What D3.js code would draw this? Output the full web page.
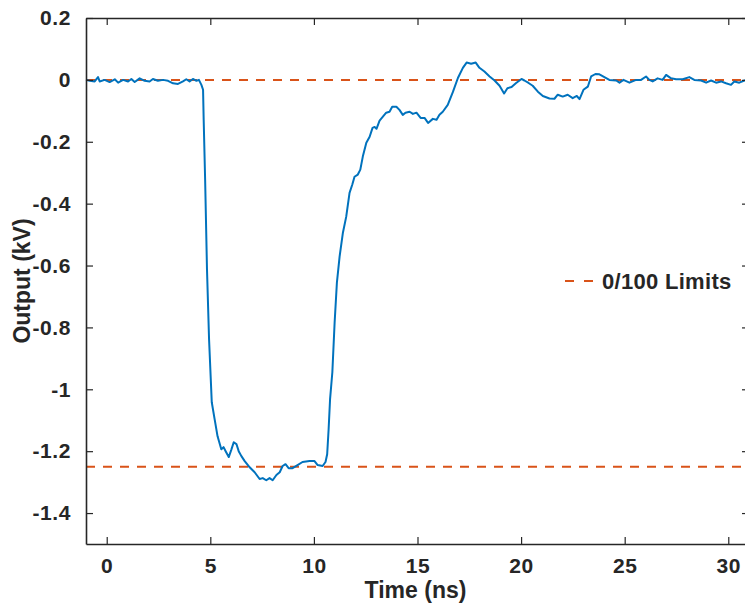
<!DOCTYPE html>
<html>
  <head>
    <meta charset="utf-8">
    <script src="https://d3js.org/d3.v7.min.js"></script>
    <style>
      body { margin: 0; background: white; }
      .tick text, .lbl, .leg {
        font-family: "Liberation Sans", Arial, sans-serif;
        font-weight: bold;
        fill: #262626;
      }
    </style>
  </head>
  <body>
    <div id="chart"></div>
<script>

var timeNs = [-1.0, -0.82, -0.58, -0.42, -0.34, -0.10, 0.14, 0.39, 0.55, 0.79, 1.03, 1.19, 1.35, 1.59, 1.83,
  2.07, 2.23, 2.47, 2.72, 2.96, 3.20, 3.44, 3.68, 3.84, 4.00, 4.16, 4.33, 4.45, 4.57, 4.65, 4.68, 4.75,
  4.84, 4.94, 5.07, 5.21, 5.35, 5.53, 5.64, 5.74, 5.89, 6.02, 6.13, 6.26, 6.37, 6.50, 6.66, 6.90, 7.14,
  7.38, 7.53, 7.70, 7.86, 8.01, 8.19, 8.35, 8.49, 8.63, 8.78, 8.97, 9.21, 9.45, 9.79, 10.03, 10.18,
  10.42, 10.56, 10.64, 10.71, 10.78, 10.89, 11.00, 11.11, 11.24, 11.40, 11.56, 11.72, 11.85, 11.96,
  12.12, 12.24, 12.36, 12.53, 12.69, 12.83, 12.93, 13.02, 13.17, 13.33, 13.49, 13.65, 13.78, 13.98,
  14.13, 14.29, 14.42, 14.62, 14.78, 14.95, 15.15, 15.34, 15.51, 15.74, 15.92, 16.06, 16.22, 16.46,
  16.71, 16.95, 17.19, 17.37, 17.59, 17.81, 17.99, 18.23, 18.48, 18.72, 18.96, 19.18, 19.34, 19.54,
  19.76, 20.02, 20.16, 20.36, 20.56, 20.81, 21.05, 21.37, 21.61, 21.77, 22.01, 22.25, 22.49, 22.69,
  22.82, 23.01, 23.22, 23.38, 23.59, 23.78, 24.02, 24.26, 24.59, 24.75, 24.94, 25.23, 25.55, 25.79,
  26.03, 26.19, 26.35, 26.59, 26.83, 27.00, 27.24, 27.48, 27.80, 28.12, 28.36, 28.69, 28.93, 29.17,
  29.41, 29.65, 29.89, 30.13, 30.29, 30.53, 30.78, 31.0];

var outputKV = [0.000, -0.003, -0.005, 0.009, -0.005, 0.000, -0.007, 0.002, -0.009, 0.000, -0.005, 0.003,
  -0.007, 0.005, -0.003, -0.005, 0.003, -0.003, 0.000, -0.003, -0.011, -0.013, -0.005, 0.002, -0.005,
  0.003, -0.003, 0.000, -0.016, -0.032, -0.129, -0.323, -0.613, -0.839, -1.042, -1.097, -1.152, -1.194,
  -1.187, -1.200, -1.219, -1.194, -1.171, -1.177, -1.200, -1.216, -1.232, -1.252, -1.268, -1.290,
  -1.287, -1.294, -1.287, -1.294, -1.277, -1.268, -1.248, -1.242, -1.255, -1.255, -1.245, -1.235,
  -1.232, -1.232, -1.245, -1.248, -1.235, -1.210, -1.129, -1.032, -0.945, -0.784, -0.655, -0.571,
  -0.494, -0.442, -0.365, -0.339, -0.313, -0.306, -0.290, -0.248, -0.203, -0.184, -0.155, -0.152,
  -0.158, -0.132, -0.119, -0.106, -0.103, -0.087, -0.087, -0.097, -0.113, -0.106, -0.103, -0.110,
  -0.106, -0.123, -0.123, -0.139, -0.126, -0.129, -0.113, -0.103, -0.081, -0.039, 0.006, 0.039,
  0.056, 0.052, 0.056, 0.039, 0.027, 0.011, -0.002, -0.019, -0.044, -0.027, -0.023, -0.010, 0.003,
  -0.002, -0.010, -0.019, -0.038, -0.052, -0.060, -0.061, -0.048, -0.054, -0.048, -0.059, -0.052,
  -0.062, -0.032, -0.022, 0.011, 0.019, 0.018, 0.009, 0.000, -0.002, -0.009, 0.000, -0.009, 0.000,
  0.000, 0.011, 0.000, -0.005, 0.005, 0.000, 0.016, 0.005, 0.002, 0.002, 0.009, 0.000, -0.002,
  -0.009, -0.002, -0.009, -0.005, -0.011, -0.016, -0.005, -0.009, -0.002, -0.004];

var limitValues = [0, -1.25];
var legendLabel = "0/100 Limits";
var xTicks = [0, 5, 10, 15, 20, 25, 30];
var yTicks = [0.2, 0, -0.2, -0.4, -0.6, -0.8, -1, -1.2, -1.4];

var width = 745, height = 606;
var mLeft = 86, mRight = 749, mTop = 18, mBottom = 544;
var tickLen = 7;

var svg = d3.select('#chart').append('svg')
  .attr('width', width)
  .attr('height', height);

var x = d3.scaleLinear().domain([-1, 31]).range([mLeft, mRight]);
var y = d3.scaleLinear().domain([-1.5, 0.2]).range([mBottom, mTop]);

// limits
svg.selectAll('.limit')
  .data(limitValues)
  .enter()
  .append('line')
  .attr('class', 'limit')
  .attr('x1', x(-1)).attr('x2', x(31))
  .attr('y1', function(d) { return y(d); })
  .attr('y2', function(d) { return y(d); })
  .style('stroke', '#D95319')
  .style('stroke-width', 2)
  .style('stroke-dasharray', '9,8');

// trace
var line = d3.line()
  .x(function(d, i) { return x(timeNs[i]); })
  .y(function(d) { return y(d); });

svg.append('path')
  .datum(outputKV)
  .attr('d', line)
  .style('fill', 'none')
  .style('stroke', '#0072BD')
  .style('stroke-width', 2)
  .style('stroke-linejoin', 'round');

// axes (box with inward ticks)
function styleAxis(g) {
  g.select('.domain').style('stroke', '#262626').style('stroke-width', 1.6);
  g.selectAll('.tick line').style('stroke', '#262626').style('stroke-width', 1.2);
  g.selectAll('.tick text').style('font-size', '21px').style('letter-spacing', '0.6px');
}

function fmtY(d) {
  var s = String(+d.toFixed(1));
  return s.replace('-0.', '-0.');
}

var xAxis = svg.append('g')
  .attr('transform', 'translate(0,' + mBottom + ')')
  .call(d3.axisBottom(x).tickValues(xTicks).tickSizeInner(-tickLen).tickSizeOuter(0).tickPadding(14)
    .tickFormat(d3.format('d')));
styleAxis(xAxis);

var xTop = svg.append('g')
  .attr('transform', 'translate(0,' + mTop + ')')
  .call(d3.axisTop(x).tickValues(xTicks).tickSizeInner(-tickLen).tickSizeOuter(0).tickFormat(''));
styleAxis(xTop);

var yAxis = svg.append('g')
  .attr('transform', 'translate(' + mLeft + ',0)')
  .call(d3.axisLeft(y).tickValues(yTicks).tickSizeInner(-tickLen).tickSizeOuter(0).tickPadding(15)
    .tickFormat(fmtY));
styleAxis(yAxis);

var yRight = svg.append('g')
  .attr('transform', 'translate(' + mRight + ',0)')
  .call(d3.axisRight(y).tickValues(yTicks).tickSizeInner(-tickLen).tickSizeOuter(0).tickFormat(''));
styleAxis(yRight);

// axis labels
svg.append('text')
  .attr('class', 'lbl')
  .attr('x', (mLeft + mRight) / 2 - 2)
  .attr('y', 598)
  .attr('text-anchor', 'middle')
  .style('font-size', '23px')
  .text('Time (ns)');

svg.append('text')
  .attr('class', 'lbl')
  .attr('transform', 'translate(30,' + ((mTop + mBottom) / 2) + ') rotate(-90)')
  .attr('text-anchor', 'middle')
  .style('font-size', '23px')
  .text('Output (kV)');

// legend
svg.append('line')
  .attr('x1', 565).attr('x2', 593)
  .attr('y1', 281).attr('y2', 281)
  .style('stroke', '#D95319')
  .style('stroke-width', 2)
  .style('stroke-dasharray', '9,10');

svg.append('text')
  .attr('class', 'leg')
  .attr('x', 602)
  .attr('y', 281)
  .attr('dy', '0.35em')
  .style('font-size', '22px')
  .style('letter-spacing', '0.3px')
  .text(legendLabel);

</script>
  </body>
</html>
